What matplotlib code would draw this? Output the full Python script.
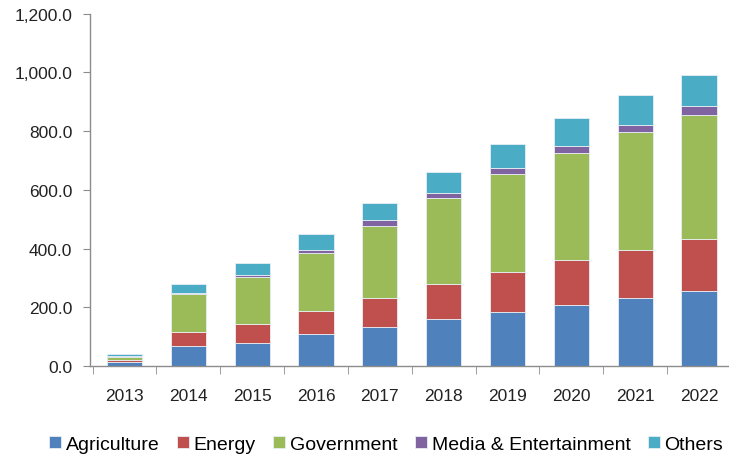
import matplotlib
matplotlib.use("Agg")
import matplotlib.pyplot as plt
from matplotlib.ticker import FuncFormatter, FixedLocator

years = ["2013", "2014", "2015", "2016", "2017", "2018", "2019", "2020", "2021", "2022"]
agriculture = [14, 67, 79, 109, 132, 160, 185, 207, 231, 255]
energy = [7, 48, 66, 77, 99, 119, 136, 153, 166, 177]
government = [11, 129, 158, 200, 247, 293, 334, 367, 400, 424]
media = [3, 6, 7, 11, 19, 18, 19, 23, 25, 30]
others = [7, 30, 41, 53, 60, 72, 83, 96, 100, 106]

series = [
    ("Agriculture", agriculture, "#4F81BD"),
    ("Energy", energy, "#C0504D"),
    ("Government", government, "#9BBB59"),
    ("Media & Entertainment", media, "#8064A2"),
    ("Others", others, "#4BACC6"),
]

plt.rcParams["font.family"] = ["Liberation Sans", "DejaVu Sans"]

fig = plt.figure(figsize=(7.29, 4.6), dpi=100)
ax = fig.add_axes([0.124, 0.202, 0.876, 0.766])

x = list(range(len(years)))
bottom = [0] * len(years)
for name, vals, color in series:
    ax.bar(x, vals, width=0.55, bottom=bottom, color=color, label=name,
           edgecolor="#e8eef4", linewidth=0.6)
    bottom = [b + v for b, v in zip(bottom, vals)]

ax.set_ylim(0, 1200)
ax.set_xlim(-0.533, 9.47)
ax.set_yticks(range(0, 1201, 200))
ax.yaxis.set_major_formatter(FuncFormatter(lambda v, p: "{:,.1f}".format(v)))
ax.set_xticks(x)
ax.set_xticklabels(years)
ax.xaxis.set_minor_locator(FixedLocator([i - 0.5 for i in range(len(years) + 1)]))

for s in ["top", "right"]:
    ax.spines[s].set_visible(False)
for s in ["left", "bottom"]:
    ax.spines[s].set_color("#8c8c8c")
    ax.spines[s].set_linewidth(1.0)

ax.tick_params(axis="x", which="major", length=0, pad=16, labelsize=12.5, labelcolor="#222222")
ax.tick_params(axis="x", which="minor", length=6, color="#8c8c8c", direction="out")
ax.tick_params(axis="y", length=5, color="#8c8c8c", pad=8, labelsize=12.5, labelcolor="#222222")

fig.legend(loc="center", bbox_to_anchor=(0.53, 0.032), ncol=5, frameon=False,
           fontsize=14, handlelength=0.6, handleheight=0.6, handletextpad=0.25,
           columnspacing=0.9)

fig.savefig("out.png", dpi=100)
